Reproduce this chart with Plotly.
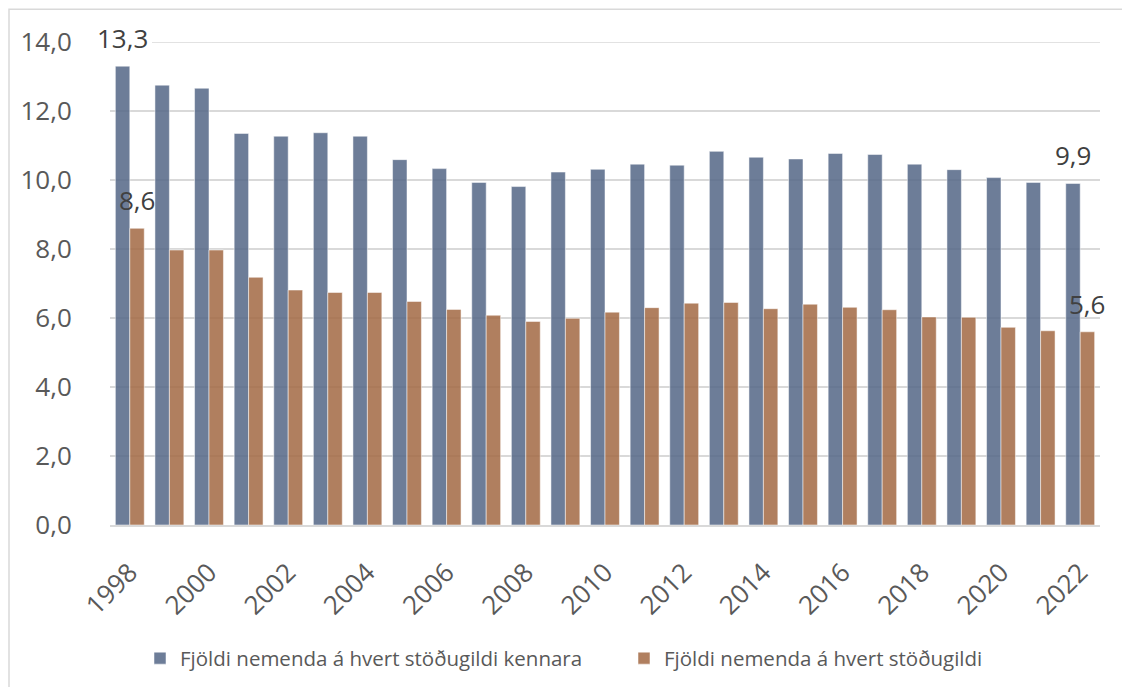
import plotly.graph_objects as go

years = [str(y) for y in range(1998, 2023)]
kennara = [13.3, 12.75, 12.66, 11.35, 11.27, 11.37, 11.27, 10.59, 10.33, 9.93, 9.81, 10.23, 10.31,
           10.46, 10.43, 10.83, 10.66, 10.61, 10.77, 10.74, 10.46, 10.30, 10.07, 9.93, 9.9]
allir = [8.6, 7.97, 7.97, 7.18, 6.81, 6.74, 6.74, 6.48, 6.25, 6.08, 5.90, 5.99, 6.17,
         6.30, 6.43, 6.45, 6.27, 6.40, 6.31, 6.24, 6.03, 6.02, 5.73, 5.63, 5.6]
name_k = "Fjöldi nemenda á hvert stöðugildi kennara"
name_a = "Fjöldi nemenda á hvert stöðugildi"
tick_years = [str(y) for y in range(1998, 2023, 2)]
y_ticks = [0, 2, 4, 6, 8, 10, 12, 14]

FONT = "Open Sans"
BLUE = "rgba(84,102,134,0.85)"
BROWN = "rgba(162,104,67,0.85)"
GRID = "#D9D9D9"

# page body has an 8px margin; plot area target (page coords): x 110-1100, y 41.7-524.7
OFF = 8
PL, PR, PT, PB = 110, 1100, 41.7, 524.7
PW, PH = PR - PL, PB - PT
YMAX = 14.0


def py(page_y):
    return (PB - page_y) / PH


def px(page_x):
    return (page_x - PL) / PW


fig = go.Figure()
fig.add_trace(go.Bar(x=years, y=kennara, name=name_k, legend="legend",
                     marker=dict(color=BLUE, line=dict(color="rgba(255,255,255,0.5)", width=1))))
fig.add_trace(go.Bar(x=years, y=allir, name=name_a, legend="legend2",
                     marker=dict(color=BROWN, line=dict(color="rgba(255,255,255,0.5)", width=1))))

# data labels for first and last values (category index positions)
last = len(years) - 1
labels = [(0, kennara[0], -7), (0, allir[0], 7),
          (last, kennara[last], -7), (last, allir[last], 7)]
for x, v, dx in labels:
    fig.add_annotation(x=x, y=v, xref="x", yref="y", text=f"{v:.1f}".replace(".", ","),
                       showarrow=False, xshift=dx, yshift=28, yanchor="middle",
                       font=dict(family=FONT, size=26, color="#404040"))

# top gridline (interrupted by the 13,3 label as in the original)
fig.add_shape(type="line", xref="paper", yref="y", x0=px(152), x1=1, y0=YMAX, y1=YMAX,
              line=dict(color=GRID, width=1.5), layer="below")

# outer chart border
fig.add_shape(type="rect", xref="paper", yref="paper",
              x0=px(9), x1=px(1145), y0=py(700), y1=py(9),
              line=dict(color=GRID, width=1.5), fillcolor="rgba(0,0,0,0)", layer="below")

legend_common = dict(orientation="h", y=py(658), yanchor="middle", xanchor="left",
                     font=dict(family=FONT, size=20.5, color="#595959"), itemwidth=30,
                     bgcolor="rgba(0,0,0,0)")

fig.update_layout(
    width=1130, height=687,
    margin=dict(l=PL - OFF, r=1130 - (PR - OFF), t=PT - OFF, b=687 - (PB - OFF), autoexpand=False),
    paper_bgcolor="white", plot_bgcolor="white",
    barmode="group", bargap=0.27, bargroupgap=0,
    separators=",.",
    font=dict(family=FONT, color="#595959"),
    showlegend=True,
    legend=dict(x=px(140), **legend_common),
    legend2=dict(x=px(624), **legend_common),
    xaxis=dict(type="category", range=[-0.5, len(years) - 0.5], autorange=False,
               tickmode="array", tickvals=tick_years, ticktext=tick_years,
               tickangle=-45, tickfont=dict(size=26, color="#595959"),
               showline=True, linecolor=GRID, linewidth=1.5,
               ticks="outside", ticklen=20, tickcolor="rgba(0,0,0,0)", showgrid=False),
    yaxis=dict(range=[0, YMAX], autorange=False, tickmode="array", tickvals=y_ticks, tickformat=".1f",
               tickfont=dict(size=26, color="#595959"),
               showgrid=True, gridcolor=GRID, gridwidth=1.5, zeroline=False,
               ticks="outside", ticklen=32, tickcolor="rgba(0,0,0,0)"),
)

fig.write_html("out.html")
